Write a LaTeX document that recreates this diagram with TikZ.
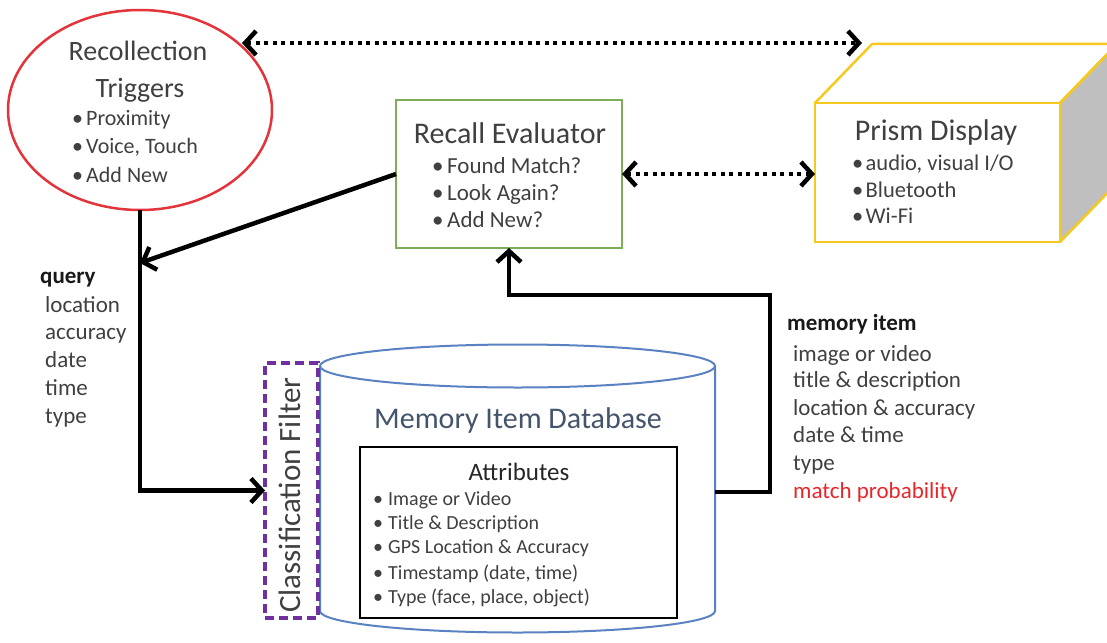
\documentclass[tikz,border=0pt]{standalone}
\usepackage{fontspec}
\setmainfont{Carlito}
\usetikzlibrary{arrows.meta,shapes.geometric}
\definecolor{trigred}{HTML}{E3343C}
\definecolor{evalgreen}{HTML}{7DAE57}
\definecolor{prismyellow}{HTML}{F7C81E}
\definecolor{dbblue}{HTML}{5A82C2}
\definecolor{filterpurple}{HTML}{7030A0}
\definecolor{dbtext}{HTML}{44546A}
\definecolor{txt}{HTML}{404040}
\definecolor{sidegray}{HTML}{BFBFBF}
\definecolor{matchred}{HTML}{E8262A}
\newcommand\fsz[1]{\fontsize{#1}{#1}\selectfont}
\newcommand\bitem[2]{\makebox[#1][l]{•}#2}
\begin{document}
\begin{tikzpicture}[x=1pt,y=-1pt,
  conn/.style={line width=4.5pt, black, -{Straight Barb[length=11pt,width=24pt]}},
  dotarr/.style={line width=4.5pt, black, dash pattern=on 4pt off 4.5pt,
     {Straight Barb[length=11pt,width=24pt]}-{Straight Barb[length=11pt,width=24pt]}},
  tx/.style={inner sep=0pt, anchor=base west, text=txt},
  ctx/.style={inner sep=0pt, anchor=base, text=txt},
  box/.style={inner sep=0pt, outer sep=0pt}
]
\useasboundingbox (0,0) rectangle (1107,642);

% --- shapes ---
\node[box, ellipse, draw=trigred, line width=2.5pt, minimum width=264pt, minimum height=200pt] (trig) at (140,110) {};
\node[box, draw=evalgreen, line width=2pt, minimum width=226pt, minimum height=148pt] (eval) at (509,174) {};

% prism
\node[box, minimum width=245pt, minimum height=139pt] (prism) at (937.5,172.5) {};
\fill[sidegray] (prism.north east) -- ++(57,-59) -- ++(0,139) -- (prism.south east) -- cycle;
\draw[prismyellow, line width=2.5pt, line join=round] (prism.north west) -- ++(57,-59) -- ++(245,0) -- (prism.north east);
\draw[prismyellow, line width=2.5pt, line join=round] (prism.north east) -- ++(57,-59);
\draw[prismyellow, line width=2.5pt] (prism.south east) -- ++(57,-59);
\draw[prismyellow, line width=2.5pt] (prism.north west) rectangle (prism.south east);

% database cylinder
\node[box, minimum width=395pt, minimum height=245pt] (db) at (517.5,488.5) {};
\draw[dbblue, line width=2pt] (db.north west) -- (db.south west)
   arc[start angle=180, end angle=360, x radius=197.5pt, y radius=21.5pt] -- (db.north east);
\draw[dbblue, line width=2pt] (db.north) ellipse[x radius=197.5pt, y radius=21.5pt];
\node[box, draw=black, line width=2.5pt, fill=white, minimum width=317pt, minimum height=171pt] (attr) at (518.5,532.5) {};

% classification filter
\node[box, draw=filterpurple, line width=4pt, dash pattern=on 9pt off 5pt, minimum width=53pt, minimum height=255pt] (filter) at (291.5,490.5) {};

% --- texts ---
\node[ctx, font=\fsz{28}] (trigt1) at (138,60) {Recollection};
\node[ctx, font=\fsz{28}] (trigt2) at (140,97) {Triggers};
\node[tx, font=\fsz{22}] (trigb1) at (72,125) {\bitem{14pt}{Proximity}};
\node[tx, font=\fsz{22}] (trigb2) at (72,153) {\bitem{14pt}{Voice, Touch}};
\node[tx, font=\fsz{22}] (trigb3) at (72,182) {\bitem{14pt}{Add New}};

\node[ctx, font=\fsz{30}] (evalt) at (510,143) {Recall Evaluator};
\node[tx, font=\fsz{23}] (evalb1) at (432,173) {\bitem{15pt}{Found Match?}};
\node[tx, font=\fsz{23}] (evalb2) at (432,200) {\bitem{15pt}{Look Again?}};
\node[tx, font=\fsz{23}] (evalb3) at (432,227) {\bitem{15pt}{Add New?}};

\node[ctx, font=\fsz{30}] (prismt) at (936,140) {Prism Display};
\node[tx, font=\fsz{22.5}] (prismb1) at (852,170) {\bitem{13.5pt}{audio, visual I/O}};
\node[tx, font=\fsz{22.5}] (prismb2) at (852,197) {\bitem{13.5pt}{Bluetooth}};
\node[tx, font=\fsz{22.5}] (prismb3) at (852,223) {\bitem{13.5pt}{Wi-Fi}};

\node[ctx, font=\fsz{30}, text=dbtext] (dbt) at (518,428) {Memory Item Database};
\node[ctx, font=\fsz{25}, text=black!85] (attrt) at (519,480) {Attributes};
\node[tx, font=\fsz{20}] (attrb1) at (373,505) {\bitem{15pt}{Image or Video}};
\node[tx, font=\fsz{20}] (attrb2) at (373,529) {\bitem{15pt}{Title \& Description}};
\node[tx, font=\fsz{20}] (attrb3) at (373,553) {\bitem{15pt}{GPS Location \& Accuracy}};
\node[tx, font=\fsz{20}] (attrb4) at (373,579) {\bitem{15pt}{Timestamp (date, time)}};
\node[tx, font=\fsz{20}] (attrb5) at (373,603) {\bitem{15pt}{Type (face, place, object)}};

\node[tx, font=\fsz{31}, rotate=90] (filtert) at (300,613) {Classification Filter};

\node[tx, font=\fsz{23}\bfseries, text=black!90] (qh) at (40,283) {query};
\node[tx, font=\fsz{23}] (q1) at (45,312) {location};
\node[tx, font=\fsz{23}] (q2) at (45,339) {accuracy};
\node[tx, font=\fsz{23}] (q3) at (45,367) {date};
\node[tx, font=\fsz{23}] (q4) at (45,395) {time};
\node[tx, font=\fsz{23}] (q5) at (45,423) {type};

\node[tx, font=\fsz{23}\bfseries, text=black!90] (mh) at (787,330) {memory item};
\node[tx, font=\fsz{23}] (m1) at (793,361) {image or video};
\node[tx, font=\fsz{23}] (m2) at (793,387) {title \& description};
\node[tx, font=\fsz{23}] (m3) at (793,415) {location \& accuracy};
\node[tx, font=\fsz{23}] (m4) at (793,442) {date \& time};
\node[tx, font=\fsz{23}] (m5) at (793,470) {type};
\node[tx, font=\fsz{23}, text=matchred] (m6) at (793,498) {match probability};

% --- connectors ---
\coordinate (dtl) at (242,43);
\coordinate (dtr) at (862,43);
\draw[dotarr] (dtl) -- (dtr);
\draw[dotarr] (eval.east) -- (eval.east -| prism.west);
\draw[conn] (eval.west) -- (trig.south |- 0,263);
\draw[conn, line join=miter] (trig.south) |- (filter.west);
\coordinate (mi) at (770,295);
\draw[conn, line join=miter] (db.east |- 0,492) -| (mi) -| (eval.south);
\end{tikzpicture}
\end{document}
